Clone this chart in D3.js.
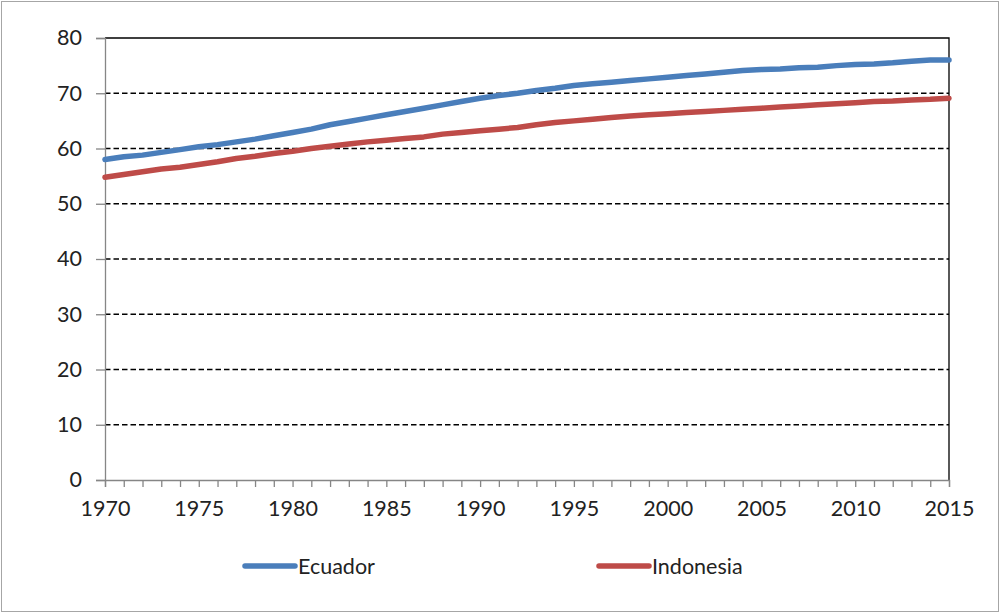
<!DOCTYPE html>
<html>
<head>
<meta charset="utf-8">
<script src="https://cdn.jsdelivr.net/npm/d3@7"></script>
<style>
html,body{margin:0;padding:0;background:#fff;}
svg{display:block;}
text{font-family:Lato,"Open Sans",sans-serif;fill:#222;}
</style>
</head>
<body>
<svg id="chart" width="1001" height="614"></svg>
<script>
const years = d3.range(1970, 2016);
const ecuador = [58.0,58.5,58.8,59.3,59.8,60.3,60.7,61.2,61.7,62.3,62.9,63.5,64.3,64.9,65.5,66.1,66.7,67.3,67.9,68.5,69.1,69.6,70.0,70.5,70.9,71.4,71.7,72.0,72.3,72.6,72.9,73.2,73.5,73.8,74.1,74.3,74.4,74.6,74.7,75.0,75.2,75.3,75.5,75.8,76.0,76.0];
const indonesia = [54.8,55.3,55.8,56.3,56.6,57.1,57.6,58.2,58.6,59.1,59.5,60.0,60.4,60.8,61.2,61.5,61.8,62.1,62.6,62.9,63.2,63.5,63.8,64.3,64.7,65.0,65.3,65.6,65.9,66.1,66.3,66.5,66.7,66.9,67.1,67.3,67.5,67.7,67.9,68.1,68.3,68.5,68.6,68.8,68.9,69.1];
const seriesNames = ["Ecuador","Indonesia"];
const seriesColors = ["#4a7ebb","#be4b48"];
const yTicks = [0,10,20,30,40,50,60,70,80];
const xTickLabels = [1970,1975,1980,1985,1990,1995,2000,2005,2010,2015];

const svg = d3.select("#chart");
const L = 105, R = 949, T = 38, B = 480;
const x = d3.scaleLinear().domain([1970,2015]).range([L,R]);
const y = d3.scaleLinear().domain([0,80]).range([B,T]);

// outer border
svg.append("rect").attr("x",1.5).attr("y",1.5).attr("width",997).attr("height",610)
  .attr("fill","#fff").attr("stroke","#a6a6a6").attr("stroke-width",1);

// gridlines
svg.append("g").selectAll("line").data(yTicks.filter(d=>d>0 && d<80)).join("line")
  .attr("x1",L).attr("x2",R).attr("y1",d=>y(d)).attr("y2",d=>y(d))
  .attr("stroke","#000").attr("stroke-width",1.5).attr("stroke-dasharray","5.5,3");

// top and right border
svg.append("path").attr("d",`M${L},${y(80)}H${R}V${B}`).attr("fill","none")
  .attr("stroke","#000").attr("stroke-width",1.3);

// y axis
const yAxis = svg.append("g").attr("transform",`translate(${L},0)`)
  .call(d3.axisLeft(y).tickValues(yTicks).tickSize(9).tickPadding(14).tickFormat(d3.format("d")));
yAxis.select(".domain").attr("stroke","#868686").attr("stroke-width",1.3);
yAxis.selectAll(".tick line").attr("stroke","#868686").attr("stroke-width",1.3);
yAxis.selectAll("text").style("font-size","21.5px").attr("fill","#222");

// x axis
const xAxis = svg.append("g").attr("transform",`translate(0,${B})`)
  .call(d3.axisBottom(x).tickValues(years).tickSize(7).tickPadding(14)
    .tickFormat(d => xTickLabels.includes(d) ? d : ""));
xAxis.select(".domain").attr("stroke","#868686").attr("stroke-width",1.3);
xAxis.selectAll(".tick line").attr("stroke","#868686").attr("stroke-width",1.3);
xAxis.selectAll("text").style("font-size","21.5px").attr("fill","#222");

// lines
const data = [ecuador, indonesia];
const line = d3.line().x((d,i)=>x(years[i])).y(d=>y(d));
svg.append("g").selectAll("path").data(data).join("path")
  .attr("d",line).attr("fill","none")
  .attr("stroke",(d,i)=>seriesColors[i]).attr("stroke-width",5.5)
  .attr("stroke-linejoin","round").attr("stroke-linecap","round");

// legend
const legX = [245, 599];
const lg = svg.append("g").selectAll("g").data(seriesNames).join("g")
  .attr("transform",(d,i)=>`translate(${legX[i]},566)`);
lg.append("line").attr("x1",0).attr("x2",50).attr("y1",0).attr("y2",0)
  .attr("stroke",(d,i)=>seriesColors[i]).attr("stroke-width",5.5).attr("stroke-linecap","round");
lg.append("text").attr("x",53).attr("y",7.5).style("font-size","21.5px").text(d=>d);
</script>
</body>
</html>
